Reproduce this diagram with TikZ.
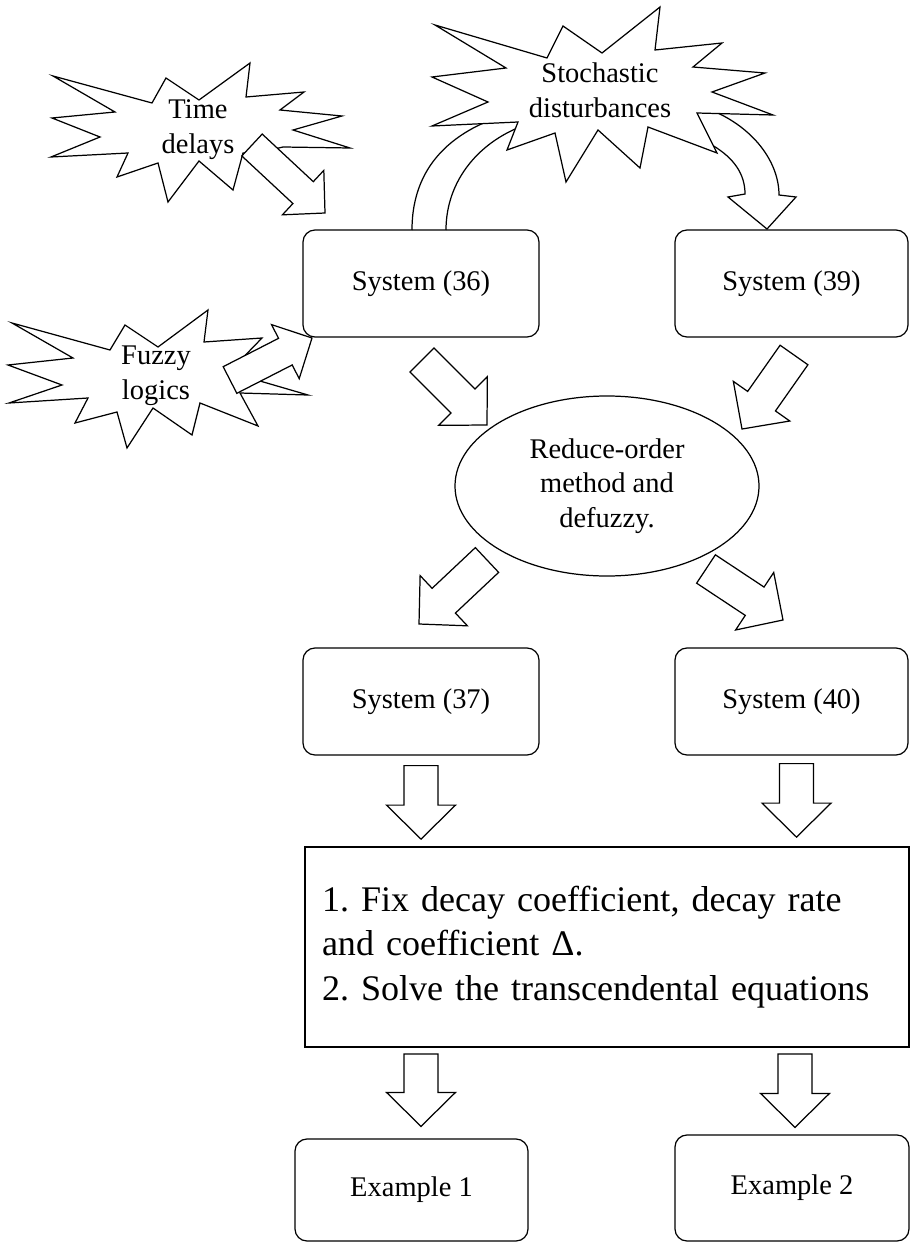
\documentclass[tikz,border=0pt]{standalone}
\usepackage{fontspec}
\setmainfont{Liberation Serif}
\usetikzlibrary{calc,shapes.geometric}
\frenchspacing

\newcommand{\lblfont}{\fontsize{16.2}{19.8}\selectfont}
\newcommand{\bigfont}{\fontsize{20.5}{25.5}\selectfont}

% hollow block arrow from tail #2 to tip #3, #1 scales its width
\newcommand{\fatarrow}[3][1]{%
  \coordinate (fa) at ($(#3)!#1*6.8mm!(#2)$);
  \draw[blockarrow] ($(#2)!#1*3.4mm!90:(#3)$) -- ($(fa)!#1*3.4mm!90:(#3)$)
    -- ($(fa)!#1*6.9mm!90:(#3)$) -- (#3) -- ($(fa)!#1*6.9mm!-90:(#3)$)
    -- ($(fa)!#1*3.4mm!-90:(#3)$) -- ($(#2)!#1*3.4mm!-90:(#3)$) -- cycle;}

\tikzset{
  sysbox/.style={draw, line width=0.7pt, rounded corners=2.4mm, minimum height=21.4mm, inner sep=0pt, font=\lblfont},
  blockarrow/.style={draw, fill=white, line width=0.7pt, line join=miter},
  burst/.style={draw, fill=white, line width=0.7pt},
  bursttext/.style={align=center, font=\lblfont},
}

\begin{document}
\begin{tikzpicture}[x=0.2mm, y=-0.2mm]
	\useasboundingbox (0,0) rectangle (910,1243);

	% stochastic disturbances and its two bent arrows
	\draw[blockarrow] (412,230) .. controls (412,160) and (460,125) .. (522,110)
		-- (528,124) .. controls (480,140) and (446,180) .. (446,230);
	\draw[blockarrow] (700,106) .. controls (750,122) and (779,160) .. (779,195)
		-- (796,197) -- (767,229) -- (728,197) -- (745,194)
		.. controls (745,174) and (734,158) .. (712,145);
	\draw[burst] (435,25) -- (547,58) -- (563,26) -- (602,53) -- (660,7) -- (655,50)
		-- (722,43) -- (693,67) -- (765,73) -- (712,92) -- (773,115) -- (697,113)
		-- (717,153) -- (648,127) -- (640,168) -- (598,130) -- (566,182) -- (555,133)
		-- (507,150) -- (518,122) -- (432,126) -- (488,102) -- (432,77) -- (506,68) -- cycle;
	\node[bursttext] (sto) at (600,90) {Stochastic\\disturbances};

	% time delays
	\draw[burst] (53,76) -- (152,103) -- (166,78) -- (199,100) -- (250,63) -- (246,97)
		-- (304,92) -- (280,110) -- (342,116) -- (293,130) -- (350,148) -- (283,147)
		-- (262,152) -- (243,153) -- (233,190) -- (199,161) -- (168,202) -- (158,163)
		-- (117,177) -- (128,153) -- (51,157) -- (100,137) -- (52,118) -- (115,112) -- cycle;
	\node[bursttext] (tdl) at (198,130) {Time\\delays};

	% fuzzy logics
	\draw[burst] (12,323) -- (110,350) -- (125,325) -- (158,347) -- (208,310) -- (204,342)
		-- (262,338) -- (229,372) -- (308,395) -- (240,393) -- (258,426) -- (200,403)
		-- (192,435) -- (153,408) -- (127,448) -- (117,412) -- (75,423) -- (88,398)
		-- (9,403) -- (62,385) -- (8,365) -- (73,358) -- cycle;
	\node[bursttext] (fzl) at (156,376) {Fuzzy\\logics};

	\node[sysbox, minimum width=47.2mm] (sys36) at (421,283.5) {System (36)};
	\node[sysbox, minimum width=46.6mm] (sys39) at (791.5,283.5) {System (39)};
	\node[draw, ellipse, line width=0.7pt, minimum width=60.8mm, minimum height=36mm,
		inner sep=0pt, align=center, font=\lblfont] (rom) at (607,486) {Reduce-order\\method and\\defuzzy.};
	\node[sysbox, minimum width=47.2mm] (sys37) at (421,701.5) {System (37)};
	\node[sysbox, minimum width=46.6mm] (sys40) at (791.5,701.5) {System (40)};
	\node[draw, line width=1pt, minimum height=40mm, text width=114mm, inner xsep=3.4mm,
		align=left, font=\bigfont] (steps) at (607,947)
		{1. Fix decay coefficient, decay rate\\and coefficient Δ.\\2. Solve the transcendental equations};
	\node[sysbox, minimum width=46.6mm, minimum height=20.4mm] (ex1) at (411.5,1190) {Example 1};
	\node[sysbox, minimum width=46.8mm, minimum height=21.2mm] (ex2) at (792,1188) {Example 2};

	\coordinate (tds) at (252,145);  \coordinate (tde) at (325,213);
	\coordinate (fzs) at (230,380);  \coordinate (fze) at (312,338);
	\coordinate (a36s) at (422,360); \coordinate (a36e) at (487,425);
	\coordinate (a39s) at (794,355); \coordinate (a39e) at (742,429);
	\coordinate (a37s) at (487,560); \coordinate (a37e) at (419,624);
	\coordinate (a40s) at (706,569); \coordinate (a40e) at (783,620);
	\coordinate (b37s) at ($(sys37.south)+(0,10)$);
	\coordinate (b37e) at ($(sys37.south|-steps.north)+(0,-7)$);
	\coordinate (b40s) at ($(sys40.south)+(5,8)$);
	\coordinate (b40e) at ($(sys40.south|-steps.north)+(5,-9)$);
	\coordinate (c1s) at ($(ex1.north|-steps.south)+(9.5,6)$);
	\coordinate (c1e) at ($(ex1.north)+(9.5,-12)$);
	\coordinate (c2s) at ($(ex2.north|-steps.south)+(3,6)$);
	\coordinate (c2e) at ($(ex2.north)+(3,-7)$);

	\fatarrow[0.88]{tds}{tde}
	\fatarrow[0.88]{fzs}{fze}
	\fatarrow{a36s}{a36e}
	\fatarrow{a39s}{a39e}
	\fatarrow{a37s}{a37e}
	\fatarrow{a40s}{a40e}
	\fatarrow{b37s}{b37e}
	\fatarrow{b40s}{b40e}
	\fatarrow{c1s}{c1e}
	\fatarrow{c2s}{c2e}
\end{tikzpicture}
\end{document}
